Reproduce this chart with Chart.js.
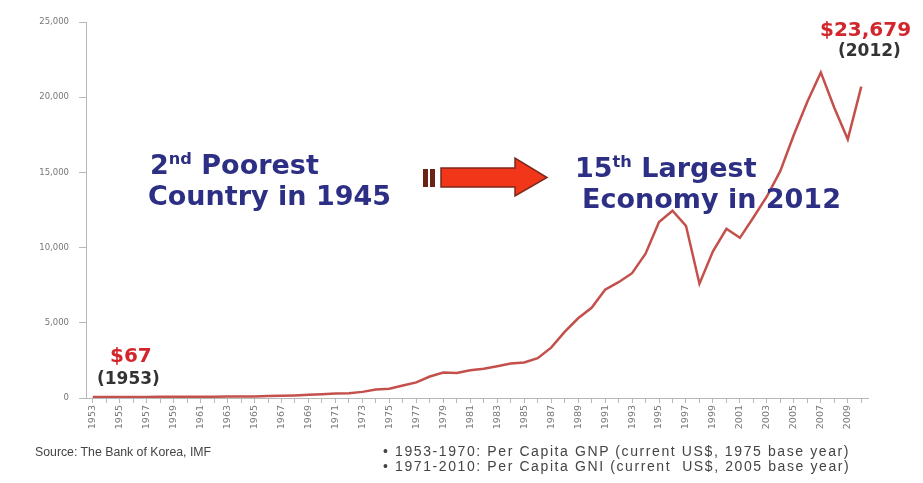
<!DOCTYPE html>
<html>
<head>
<meta charset="utf-8">
<script src="https://cdn.jsdelivr.net/npm/chart.js@4"></script>
<style>
  body { margin: 0; background: #fff; }
  #wrap { position: relative; width: 923px; height: 483px; overflow: hidden; }
  .big { position: absolute; font-family: "DejaVu Sans", Verdana, sans-serif; font-weight: bold;
         font-size: 27px; line-height: 27px; color: #2d2f84; white-space: nowrap; }
  .big sup { font-size: 0.6em; position: relative; top: -0.6em; vertical-align: baseline; }
  .note { position: absolute; font-family: "DejaVu Sans", Verdana, sans-serif; font-weight: bold;
          white-space: nowrap; }
  .red { color: #d3262c; font-size: 20px; line-height: 20px; }
  .yr { color: #333; font-size: 17px; line-height: 17px; }
  .foot { position: absolute; font-family: "Liberation Sans", Arial, sans-serif; font-size: 12.3px;
          line-height: 14px; color: #444; white-space: nowrap; }
  .foot.bul { font-size: 14px; letter-spacing: 1.6px; }
</style>
</head>
<body>
<div id="wrap">
  <canvas id="gniChart" width="923" height="483"></canvas>

  <div class="big" style="left:150px; top:151px;">2<sup>nd</sup> Poorest</div>
  <div class="big" style="left:148px; top:182px;">Country in 1945</div>
  <div class="big" style="left:575px; top:154px;">15<sup>th</sup> Largest</div>
  <div class="big" style="left:582px; top:185px;">Economy in 2012</div>

  <div class="note red" style="left:110px; top:345px;">$67</div>
  <div class="note yr" style="left:97px; top:370px;">(1953)</div>
  <div class="note red" style="left:820px; top:19px;">$23,679</div>
  <div class="note yr" style="left:838px; top:42px;">(2012)</div>

  <div class="foot" style="left:35px; top:445px;">Source: The Bank of Korea, IMF</div>
  <div class="foot bul" style="left:383px; top:444px;">• 1953-1970: Per Capita GNP (current US$, 1975 base year)</div>
  <div class="foot bul" style="left:383px; top:459px;">• 1971-2010: Per Capita GNI (current&nbsp; US$, 2005 base year)</div>
</div>

<script>
// Per capita GNP / GNI, current US$
const years = [
  '1953', '1954', '1955', '1956', '1957', '1958', '1959', '1960', '1961', '1962',
  '1963', '1964', '1965', '1966', '1967', '1968', '1969', '1970', '1971', '1972',
  '1973', '1974', '1975', '1976', '1977', '1978', '1979', '1980', '1981', '1982',
  '1983', '1984', '1985', '1986', '1987', '1988', '1989', '1990', '1991', '1992',
  '1993', '1994', '1995', '1996', '1997', '1998', '1999', '2000', '2001', '2002',
  '2003', '2004', '2005', '2006', '2007', '2008', '2009', '2010'
];
const gniValues = [
  67, 70, 65, 66, 74, 80, 81, 79, 82, 87,
  100, 103, 105, 125, 142, 169, 210, 254, 292, 324,
  407, 563, 610, 830, 1040, 1430, 1690, 1660, 1850, 1940,
  2110, 2300, 2360, 2650, 3350, 4400, 5300, 6000, 7200, 7700,
  8300, 9600, 11700, 12450, 11450, 7600, 9750, 11250, 10650, 12000,
  13400, 15100, 17500, 19700, 21650, 19300, 17200, 20700
];
const yTicks = [0, 5000, 10000, 15000, 20000, 25000];

// the red "grows into" arrow between the two captions
const arrowPlugin = {
  id: 'arrow',
  afterDraw(chart) {
    const c = chart.ctx;
    c.save();
    c.fillStyle = '#6b2318';
    c.fillRect(423, 169, 5, 18);
    c.fillRect(430, 169, 5, 18);
    c.beginPath();
    c.moveTo(441, 168);
    c.lineTo(515, 168);
    c.lineTo(515, 158);
    c.lineTo(547, 177.5);
    c.lineTo(515, 196);
    c.lineTo(515, 187);
    c.lineTo(441, 187);
    c.closePath();
    c.fillStyle = '#f2361a';
    c.fill();
    c.strokeStyle = '#7a2a1c';
    c.lineWidth = 1.5;
    c.stroke();
    c.restore();
  }
};

const axisGrey = '#b8b8b8';

new Chart(document.getElementById('gniChart'), {
  type: 'line',
  data: {
    labels: years,
    datasets: [{
      data: gniValues,
      borderColor: '#c4504c',
      borderWidth: 2.5,
      pointRadius: 0,
      tension: 0,
      fill: false
    }]
  },
  options: {
    responsive: false,
    animation: false,
    layout: { padding: { left: 0, right: 55, top: 22, bottom: 0 } },
    plugins: { legend: { display: false }, tooltip: { enabled: false } },
    scales: {
      x: {
        offset: true,
        afterFit: s => { s.height = 85; },
        grid: { drawOnChartArea: false, tickLength: 5, color: axisGrey, tickColor: axisGrey },
        border: { color: axisGrey },
        ticks: {
          autoSkip: false,
          minRotation: 90,
          maxRotation: 90,
          padding: 2,
          color: '#777',
          font: { family: 'DejaVu Sans', size: 9.5 },
          callback: function (v, i) { return i % 2 === 0 ? this.getLabelForValue(v) : ''; }
        }
      },
      y: {
        min: 0,
        max: 25000,
        afterFit: s => { s.width = 86; },
        afterBuildTicks: s => { s.ticks = yTicks.map(v => ({ value: v })); },
        grid: { drawOnChartArea: false, tickLength: 7, color: axisGrey, tickColor: axisGrey },
        border: { color: axisGrey },
        ticks: {
          padding: 10,
          color: '#777',
          font: { family: 'DejaVu Sans', size: 8.5 },
          callback: v => v.toLocaleString('en-US')
        }
      }
    }
  },
  plugins: [arrowPlugin]
});
</script>
</body>
</html>
